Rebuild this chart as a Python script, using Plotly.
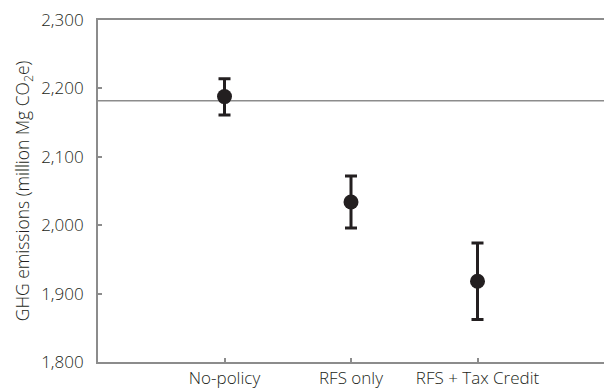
import plotly.graph_objects as go

categories = ["No-policy", "RFS only", "RFS + Tax Credit"]
x_positions = [1, 2, 3]
emissions = [2188, 2034, 1918]
upper = [2214, 2072, 1974]
lower = [2161, 1996, 1862]
reference_value = 2182
y_ticks = [1800, 1900, 2000, 2100, 2200, 2300]
y_tick_labels = ["1,800", "1,900", "2,000", "2,100", "2,200", "2,300"]

err_plus = [u - v for u, v in zip(upper, emissions)]
err_minus = [v - l for v, l in zip(emissions, lower)]

DARK = "#231f20"
GREY = "#8c8c8c"
FONT = "Open Sans"

fig = go.Figure()
fig.add_trace(go.Scatter(
    x=x_positions, y=emissions, mode="markers",
    marker=dict(size=15, color=DARK),
    error_y=dict(type="data", symmetric=False, array=err_plus, arrayminus=err_minus,
                 thickness=3, width=6, color=DARK),
    showlegend=False, hoverinfo="skip",
))

fig.add_shape(type="line", xref="paper", x0=0, x1=1, yref="y",
              y0=reference_value, y1=reference_value,
              line=dict(color=GREY, width=1.5), layer="below")

fig.update_layout(
    width=604, height=388,
    margin=dict(l=98, r=0, t=19.5, b=25.5),
    paper_bgcolor="white", plot_bgcolor="white",
    font=dict(family=FONT, size=17, color=DARK, weight=300),
    xaxis=dict(
        range=[0, 4], tickvals=x_positions, ticktext=categories,
        showline=True, linecolor=GREY, linewidth=2, mirror=True,
        ticks="inside", ticklen=4, tickcolor=GREY, tickwidth=1.5,
        showgrid=False, zeroline=False,
        tickfont=dict(family=FONT, size=17, color=DARK, weight=300),
        ticklabelstandoff=0,
        fixedrange=True,
    ),
    yaxis=dict(
        range=[1800, 2300], tickvals=y_ticks, ticktext=y_tick_labels,
        showline=True, linecolor=GREY, linewidth=2,
        ticks="inside", ticklen=4, tickcolor=GREY, tickwidth=1.5,
        showgrid=False, zeroline=False,
        tickfont=dict(family=FONT, size=17, color=DARK, weight=300),
        ticklabelstandoff=9,
        title=dict(text="GHG emissions (million Mg CO<sub>2</sub>e)",
                   font=dict(family=FONT, size=17.5, color=DARK, weight=300),
                   standoff=7),
        fixedrange=True,
    ),
)

fig.write_html("out.html", config={"displayModeBar": False},
               post_script="document.body.style.margin='0';")
